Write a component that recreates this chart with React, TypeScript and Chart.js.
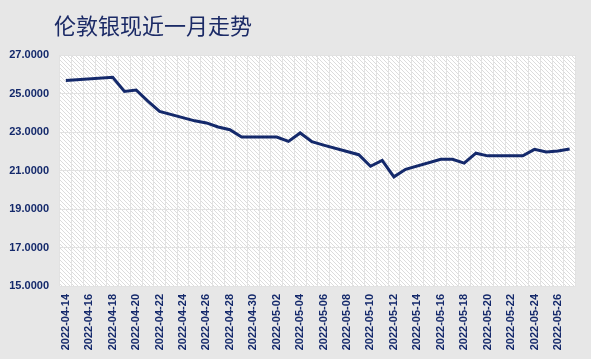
import React, { useEffect, useRef } from "react";
import { Chart, registerables } from "chart.js";

Chart.register(...registerables);

const TITLE = "伦敦银现近一月走势";

const dates: string[] = [
  "2022-04-14", "2022-04-15", "2022-04-16", "2022-04-17", "2022-04-18", "2022-04-19", "2022-04-20",
  "2022-04-21", "2022-04-22", "2022-04-23", "2022-04-24", "2022-04-25", "2022-04-26", "2022-04-27",
  "2022-04-28", "2022-04-29", "2022-04-30", "2022-05-01", "2022-05-02", "2022-05-03", "2022-05-04",
  "2022-05-05", "2022-05-06", "2022-05-07", "2022-05-08", "2022-05-09", "2022-05-10", "2022-05-11",
  "2022-05-12", "2022-05-13", "2022-05-14", "2022-05-15", "2022-05-16", "2022-05-17", "2022-05-18",
  "2022-05-19", "2022-05-20", "2022-05-21", "2022-05-22", "2022-05-23", "2022-05-24", "2022-05-25",
  "2022-05-26", "2022-05-27",
];

const prices: (number | null)[] = [
  25.67, null, null, null, 25.84, 25.11, 25.18,
  24.6, 24.07, null, null, 23.58, 23.47, 23.26,
  23.12, 22.74, null, null, 22.74, 22.51, 22.95,
  22.5, 22.32, null, null, 21.82, 21.22, 21.52,
  20.67, 21.06, null, null, 21.58, 21.58, 21.38,
  21.9, 21.76, null, null, 21.76, 22.1, 21.96,
  22.01, 22.12,
];

const yMin = 15;
const yMax = 27;
const yStep = 2;

const NAVY = "#14296b";

export default function App() {
  const ref = useRef<HTMLCanvasElement | null>(null);

  useEffect(() => {
    const canvas = ref.current;
    if (!canvas) return;

    const tile = document.createElement("canvas");
    tile.width = 4;
    tile.height = 4;
    const tctx = tile.getContext("2d")!;
    tctx.fillStyle = "#ffffff";
    tctx.fillRect(0, 0, 4, 4);
    tctx.fillStyle = "#dcdcdc";
    for (let i = 0; i < 4; i++) tctx.fillRect(i, i, 1, 1);

    const bgPlugin = {
      id: "bgPlugin",
      beforeDraw(chart: any) {
        const { ctx, chartArea, width, height } = chart;
        ctx.save();
        ctx.fillStyle = "#e7e7e7";
        ctx.fillRect(0, 0, width, height);
        const pat = ctx.createPattern(tile, "repeat");
        if (pat) {
          ctx.fillStyle = pat;
          ctx.fillRect(chartArea.left, chartArea.top, chartArea.right - chartArea.left, chartArea.bottom - chartArea.top);
        }
        ctx.fillStyle = "#1b2a66";
        ctx.font = '22px "Noto Sans CJK SC", sans-serif';
        ctx.textBaseline = "middle";
        ctx.textAlign = "left";
        ctx.fillText(TITLE, 54, 26);
        ctx.restore();
      },
    };

    const chart = new Chart(canvas, {
      type: "line",
      data: {
        labels: dates,
        datasets: [
          {
            data: prices,
            borderColor: NAVY,
            borderWidth: 3,
            pointRadius: 0,
            spanGaps: true,
            tension: 0,
            fill: false,
          },
        ],
      },
      options: {
        animation: false,
        responsive: false,
        maintainAspectRatio: false,
        layout: { padding: { left: 0, right: 15, top: 55, bottom: 0 } },
        plugins: {
          legend: { display: false },
          tooltip: { enabled: false },
          title: { display: false },
        },
        scales: {
          x: {
            type: "category",
            offset: true,
            grid: { offset: true, color: "#e2e2e2", lineWidth: 1, drawTicks: false },
            border: { display: false },
            afterFit: (s: any) => {
              s.height = 73;
            },
            ticks: {
              autoSkip: false,
              maxRotation: 90,
              minRotation: 90,
              padding: 8,
              color: NAVY,
              font: { family: '"Liberation Sans", Arial, sans-serif', size: 11, weight: "bold" },
              callback: function (this: any, _v: any, i: number) {
                return i % 2 === 0 ? dates[i] : "";
              },
            },
          },
          y: {
            min: yMin,
            max: yMax,
            grid: { color: "#e2e2e2", lineWidth: 1, drawTicks: false },
            border: { display: false },
            afterFit: (s: any) => {
              s.width = 60;
            },
            ticks: {
              stepSize: yStep,
              padding: 11,
              color: NAVY,
              font: { family: '"Liberation Sans", Arial, sans-serif', size: 11, weight: "bold" },
              callback: (v: any) => Number(v).toFixed(4),
            },
          },
        },
      },
      plugins: [bgPlugin],
    });

    return () => chart.destroy();
  }, []);

  return (
    <div style={{ position: "fixed", left: 0, top: 0, width: 591, height: 359 }}>
      <canvas ref={ref} width={591} height={359} style={{ width: 591, height: 359, display: "block" }} />
    </div>
  );
}
